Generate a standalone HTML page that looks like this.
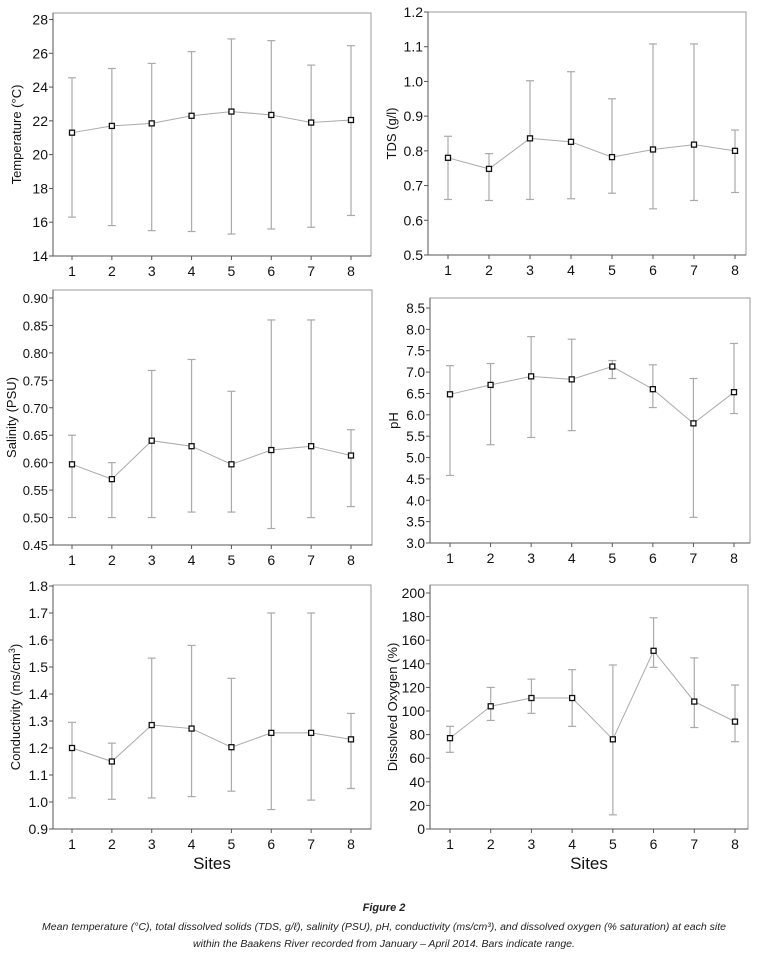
<!DOCTYPE html>
<html><head><meta charset="utf-8"><style>
body{margin:0;background:#fff;width:768px;height:955px;overflow:hidden;font-family:"Liberation Sans",sans-serif}
svg{position:absolute;left:0;top:0}
.cap{position:absolute;left:0;width:768px;text-align:center;font-style:italic;font-size:10.5px;color:#222;font-family:"Liberation Sans",sans-serif}
</style></head><body>
<svg id="chart" width="768" height="955"></svg>
<div class="cap" style="top:902px;font-weight:bold;font-size:11px">Figure 2</div>
<div class="cap" style="top:919px;line-height:17px">Mean temperature (°C), total dissolved solids (TDS, g/ℓ), salinity (PSU), pH, conductivity (ms/cm³), and dissolved oxygen (% saturation) at each site<br>within the Baakens River recorded from January – April 2014. Bars indicate range.</div>
<script>
const sites=[1,2,3,4,5,6,7,8];
const tempMean=[21.3,21.7,21.85,22.3,22.55,22.35,21.9,22.05];
const tempMin=[16.3,15.8,15.5,15.45,15.3,15.6,15.7,16.4];
const tempMax=[24.55,25.1,25.4,26.1,26.85,26.75,25.3,26.45];
const tempTicks=[14,16,18,20,22,24,26,28];
const tdsMean=[0.78,0.748,0.836,0.826,0.782,0.804,0.818,0.8];
const tdsMin=[0.66,0.657,0.66,0.662,0.678,0.633,0.657,0.68];
const tdsMax=[0.842,0.792,1.002,1.028,0.95,1.108,1.108,0.86];
const tdsTicks=[0.5,0.6,0.7,0.8,0.9,1.0,1.1,1.2];
const salMean=[0.597,0.57,0.64,0.63,0.597,0.623,0.63,0.613];
const salMin=[0.5,0.5,0.5,0.51,0.51,0.48,0.5,0.52];
const salMax=[0.65,0.6,0.768,0.788,0.73,0.86,0.86,0.66];
const salTicks=[0.45,0.5,0.55,0.6,0.65,0.7,0.75,0.8,0.85,0.9];
const phMean=[6.48,6.7,6.9,6.83,7.13,6.6,5.8,6.53];
const phMin=[4.58,5.3,5.47,5.63,6.85,6.17,3.6,6.03];
const phMax=[7.15,7.2,7.83,7.77,7.27,7.17,6.85,7.67];
const phTicks=[3.0,3.5,4.0,4.5,5.0,5.5,6.0,6.5,7.0,7.5,8.0,8.5];
const condMean=[1.2,1.15,1.285,1.272,1.203,1.256,1.256,1.232];
const condMin=[1.015,1.01,1.015,1.02,1.04,0.972,1.007,1.05];
const condMax=[1.295,1.218,1.533,1.58,1.458,1.7,1.7,1.328];
const condTicks=[0.9,1.0,1.1,1.2,1.3,1.4,1.5,1.6,1.7,1.8];
const doMean=[77,104,111,111,76,151,108,91];
const doMin=[65,92,98,87,12,137,86,74];
const doMax=[87,120,127,135,139,179,145,122];
const doTicks=[0,20,40,60,80,100,120,140,160,180,200];

const NS="http://www.w3.org/2000/svg";
const svg=document.getElementById('chart');
function mk(tag,attrs,parent){const e=document.createElementNS(NS,tag);for(const k in attrs)e.setAttribute(k,attrs[k]);(parent||svg).appendChild(e);return e;}

function panel(cfg){
  const g=mk('g',{});
  
  
  const ymin=cfg.ticks[0],ymax=cfg.ticks[cfg.ticks.length-1];
  const y=v=>cfg.pyBot-(v-ymin)/(ymax-ymin)*(cfg.pyBot-cfg.pyTop);
  const x=s=>cfg.x1+(s-1)*(cfg.x8-cfg.x1)/7;
  const tfs=cfg.tfs||14;
  const frame=mk('rect',{x:cfg.L,y:cfg.T,width:cfg.R-cfg.L,height:cfg.pyBot-cfg.T,fill:'none',stroke:'#999','stroke-width':1},g);
  
  
  mk('line',{x1:cfg.L,x2:cfg.L,y1:cfg.T,y2:cfg.pyBot,stroke:'#555'},g);
  mk('line',{x1:cfg.L,x2:cfg.R,y1:cfg.pyBot,y2:cfg.pyBot,stroke:'#555'},g);
  cfg.ticks.forEach(t=>{
    mk('line',{x1:cfg.L-4,x2:cfg.L,y1:y(t),y2:y(t),stroke:'#555'},g);
    const tx=mk('text',{x:cfg.L-5,y:y(t)+5,'text-anchor':'end','font-size':tfs,fill:'#111'},g);
    tx.textContent=cfg.fmt(t);
    
    
  });
  sites.forEach(s=>{
    mk('line',{x1:x(s),x2:x(s),y1:cfg.pyBot,y2:cfg.pyBot+4,stroke:'#555'},g);
    const tx=mk('text',{x:x(s),y:cfg.pyBot+20,'text-anchor':'middle','font-size':14,fill:'#111'},g);
    tx.textContent=s;
    
    
  });
  const yt=mk('text',{x:0,y:0,'text-anchor':'middle','font-size':13,fill:'#111',transform:`translate(${cfg.tx},${(cfg.T+cfg.pyBot)/2}) rotate(-90)`},g);
  yt.innerHTML=cfg.title;
  
  
  if(cfg.xlabel){
    const xt=mk('text',{x:(cfg.L+cfg.R)/2,y:cfg.pyBot+40,'text-anchor':'middle','font-size':17,fill:'#111'},g);
    xt.textContent='Sites';
    
    
  }
  cfg.mean.forEach((m,i)=>{
    const s=sites[i],cx=x(s);
    const eb=mk('g',{},g);
    
    
    mk('line',{x1:cx,x2:cx,y1:y(cfg.max[i]),y2:y(cfg.min[i]),stroke:'#aaa','stroke-width':1.2},eb);
    mk('line',{x1:cx-4,x2:cx+4,y1:y(cfg.max[i]),y2:y(cfg.max[i]),stroke:'#aaa','stroke-width':1.2},eb);
    mk('line',{x1:cx-4,x2:cx+4,y1:y(cfg.min[i]),y2:y(cfg.min[i]),stroke:'#aaa','stroke-width':1.2},eb);
  });
  const pts=cfg.mean.map((m,i)=>x(sites[i])+','+y(m)).join(' ');
  const pl=mk('polyline',{points:pts,fill:'none',stroke:'#aaa','stroke-width':1},g);
  
  
  cfg.mean.forEach((m,i)=>{
    const r=mk('rect',{x:x(sites[i])-2.5,y:y(m)-2.5,width:5,height:5,fill:'#fff',stroke:'#111','stroke-width':1.3},g);
    
    
  });
}
const f0=v=>String(v),f1=v=>v.toFixed(1),f2=v=>v.toFixed(2);
panel({name:'temperature-panel',L:53,R:371,T:13,pyTop:19.5,pyBot:256,x1:72,x8:351,ticks:tempTicks,mean:tempMean,min:tempMin,max:tempMax,fmt:f0,title:'Temperature (°C)',tx:21});
panel({name:'tds-panel',L:428,R:746,T:12,pyTop:12,pyBot:255,x1:448,x8:735,ticks:tdsTicks,mean:tdsMean,min:tdsMin,max:tdsMax,fmt:f1,title:'TDS (g/l)',tx:396});
panel({name:'salinity-panel',L:53,R:372,T:290,pyTop:298,pyBot:545,x1:72,x8:351,ticks:salTicks,mean:salMean,min:salMin,max:salMax,fmt:f2,title:'Salinity (PSU)',tx:16,tfs:13});
panel({name:'ph-panel',L:430,R:750,T:298,pyTop:308,pyBot:543,x1:450,x8:734,ticks:phTicks,mean:phMean,min:phMin,max:phMax,fmt:f1,title:'pH',tx:398,tfs:13.5});
panel({name:'conductivity-panel',L:53,R:371,T:585,pyTop:586,pyBot:829,x1:72,x8:351,ticks:condTicks,mean:condMean,min:condMin,max:condMax,fmt:f1,title:'Conductivity (ms/cm<tspan dy="-5" font-size="9">3</tspan><tspan dy="5">)</tspan>',xlabel:true,tx:20});
panel({name:'dissolved-oxygen-panel',L:430,R:748,T:585,pyTop:593,pyBot:829,x1:450,x8:735,ticks:doTicks,mean:doMean,min:doMin,max:doMax,fmt:f0,title:'Dissolved Oxygen (%)',xlabel:true,tx:397});
</script>
</body></html>
